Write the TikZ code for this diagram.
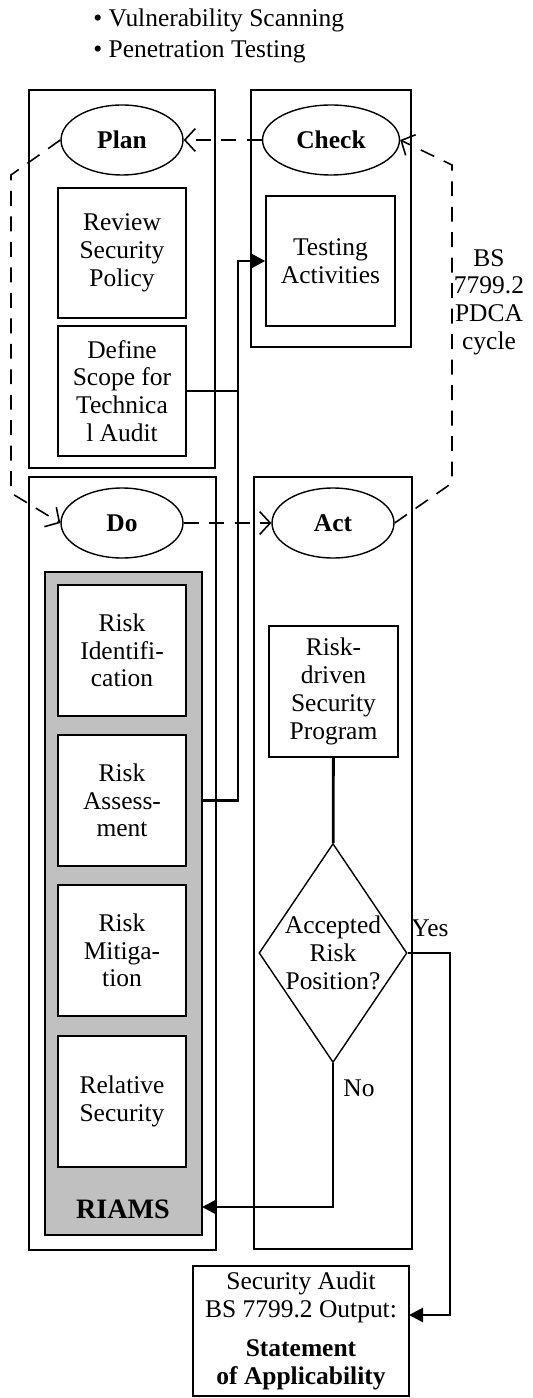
\documentclass[tikz,border=0pt]{standalone}
\usepackage{fontspec}
\setmainfont{Liberation Serif}
\usepackage{xcolor}
\usetikzlibrary{arrows.meta, positioning, shapes.geometric}
\definecolor{riamsgray}{HTML}{C0C0C0}
\newcommand{\diagfont}{\fontsize{14.5}{15.8}\selectfont}

\tikzset{
  panel/.style={draw, line width=0.8pt},
  phase/.style={draw, ellipse, line width=0.8pt, inner sep=0pt,
    minimum width=2.44cm, minimum height=1.4cm, font=\diagfont\bfseries},
  stepbox/.style={draw, fill=white, line width=0.8pt, inner sep=1pt,
    minimum width=2.56cm, minimum height=2.6cm, align=center, font=\diagfont},
  cyclearrow/.style={line width=0.9pt, dash pattern=on 8.5pt off 6pt,
    -{Straight Barb[length=6pt,width=13pt]}},
  flow/.style={line width=1.6pt, -{Triangle[length=8pt,width=8pt]}},
  plainlbl/.style={font=\diagfont, align=center, inner sep=0pt},
}

\begin{document}
\begin{tikzpicture}[x=0.02cm, y=-0.02cm]
\useasboundingbox (0,0) rectangle (532,1398);

\node[plainlbl, anchor=west] (vuln) at (93,20) {\textbullet\ Vulnerability Scanning};
\node[plainlbl, anchor=west] (pentest) at (93,52) {\textbullet\ Penetration Testing};

\draw[panel] (29,90) rectangle (215,468);
\draw[panel] (251,90) rectangle (411,347);
\draw[panel] (29,477) rectangle (216,1250);
\draw[panel] (254,477) rectangle (412,1249);

\node[phase] (plan) at (122,140) {Plan};
\node[phase, minimum width=2.74cm] (check) at (331,140) {Check};
\node[phase] (do) at (122,523) {Do};
\node[phase] (act) at (333,523) {Act};

\node[stepbox] (review) at (122,253) {Review\\Security\\Policy};
\node[stepbox] (scope) at (122,391) {Define\\Scope for\\Technica\\l Audit};
\node[stepbox, minimum width=2.58cm] (testing) at (330.5,261) {Testing\\Activities};

\draw[fill=riamsgray, line width=1.1pt] (45,572) rectangle (202,1235);
\coordinate (riamsedge) at (202,0);
\node[stepbox, minimum height=2.62cm] (riskid) at (122,650.5) {Risk\\Identifi-\\cation};
\node[stepbox, minimum height=2.62cm] (riskass) at (122,800.5) {Risk\\Assess-\\ment};
\node[stepbox, minimum height=2.62cm] (riskmit) at (122,950.5) {Risk\\Mitiga-\\tion};
\node[stepbox, minimum height=2.62cm] (relsec) at (122,1101.5) {Relative\\Security};
\node[plainlbl, font=\fontsize{16}{18}\selectfont\bfseries] (riams) at (123,1209) {RIAMS};

\node[stepbox, minimum width=2.58cm, minimum height=2.62cm] (program) at (333.5,691.5) {Risk-\\driven\\Security\\Program};
\node[draw, diamond, line width=0.8pt, inner sep=0pt, aspect=0.68,
  minimum width=2.96cm, minimum height=4.38cm, align=center, font=\diagfont] (accept) at (333,953) {Accepted\\Risk\\Position?};

\node[draw, line width=0.8pt, minimum width=4.32cm, minimum height=2.6cm,
  align=center, font=\diagfont, inner sep=0pt] (soa) at (301,1331)
  {Security Audit\\BS 7799.2 Output:\\[0.24cm]\textbf{Statement}\\\textbf{of Applicability}};

\node[plainlbl] (pdca) at (489,302) {BS\\7799.2\\PDCA\\cycle};
\node[plainlbl] (yes) at (430,928) {Yes};
\node[plainlbl] (no) at (359,1088) {No};

\draw[cyclearrow] (check.west) -- (plan.east);
\coordinate (pdtop) at (11,175);
\coordinate (pdbot) at (11,493);
\draw[cyclearrow] (plan.west) -- (pdtop) -- (pdbot) -- (do.west);
\draw[cyclearrow] (do.east) -- (act.west);
\coordinate (acbot) at (452,483);
\coordinate (actop) at (452,165);
\draw[cyclearrow] (act.east) -- (acbot) -- (actop) -- (check.east);

\coordinate (bus) at (238,0);
\draw[flow] (riamsedge |- riskass.east) -- (bus |- riskass.east) -- (bus |- testing.west) -- (testing.west);
\draw[line width=1.6pt] (scope.east) -- (bus |- scope.east);

\draw[line width=1.6pt] (program) -- (accept);
\coordinate (yesturn) at (450,953);
\coordinate (yesend) at (409,1315);
\draw[flow] (accept.east) -- (yesturn) |- (yesend);
\coordinate (noturn) at (333,1207);
\draw[flow] (accept.south) -- (noturn) -- (riamsedge |- noturn);
\end{tikzpicture}
\end{document}
